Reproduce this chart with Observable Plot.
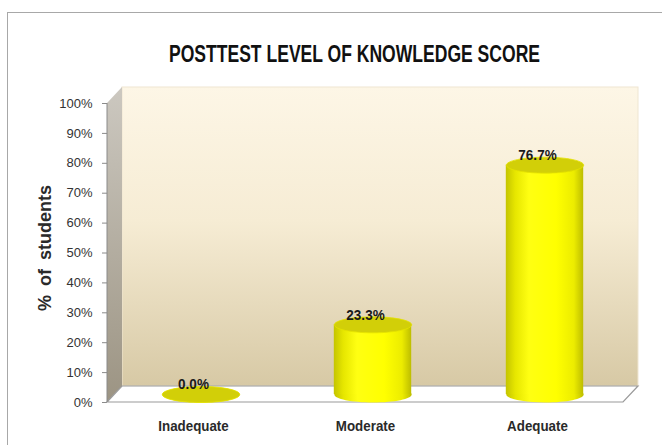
<!DOCTYPE html>
<html>
<head>
<meta charset="utf-8">
<script src="https://cdn.jsdelivr.net/npm/d3@7"></script>
<script src="https://cdn.jsdelivr.net/npm/@observablehq/plot@0.6"></script>
<style>
  html, body { margin: 0; padding: 0; background: #fff; }
  #page { position: relative; width: 662px; height: 445px; overflow: hidden; }
  #border { position: absolute; left: 7px; top: 12px; width: 700px; height: 500px; border: 1px solid #a8a8a8; box-sizing: border-box; }
  #title { position: absolute; left: 169px; top: 43px; white-space: nowrap; transform-origin: 0 0;
    font-family: "Liberation Sans", Arial, sans-serif; font-weight: bold; font-size: 23px; line-height: 23px; color: #111; }
  #chart { position: absolute; left: 0; top: 80px; }
  #chart svg { overflow: visible; }
  #chart [aria-label^="y-axis"] text { font-family: "Liberation Sans", Arial, sans-serif; font-size: 13px; fill: #333; }
  #chart [aria-label^="y-axis"] line, #chart [aria-label^="y-axis"] path { stroke: #8a8a8a; }
  #chart [aria-label^="x-axis"] text { font-family: "Liberation Sans", Arial, sans-serif; font-size: 15px; font-weight: bold; fill: #2a2a2a; }
</style>
</head>
<body>
<div id="page">
  <div id="border"></div>
  <span id="title"></span>
  <div id="chart"></div>
</div>
<script>
// ---- data ----
const title = "POSTTEST LEVEL OF KNOWLEDGE SCORE";
const yLabel = "% of students";
const categories = ["Inadequate", "Moderate", "Adequate"];
const values = [0.0, 23.3, 76.7];
const valueLabels = ["0.0%", "23.3%", "76.7%"];
const yTicks = [0, 10, 20, 30, 40, 50, 60, 70, 80, 90, 100];

const data = categories.map((c, i) => ({category: c, value: values[i], label: valueLabels[i]}));

// ---- 3D look (style constants) ----
const DX = 15, DY = -16;          // depth of the box
const CX = DX / 2, CY = DY / 2;   // cylinders sit mid-depth
const RX = 38.7, RY = 8;          // cylinder cap ellipse radii

function ellipseSymbol(rx, ry) {
  const k = 0.5523;
  return {
    draw(ctx) {
      ctx.moveTo(rx, 0);
      ctx.bezierCurveTo(rx, ry * k, rx * k, ry, 0, ry);
      ctx.bezierCurveTo(-rx * k, ry, -rx, ry * k, -rx, 0);
      ctx.bezierCurveTo(-rx, -ry * k, -rx * k, -ry, 0, -ry);
      ctx.bezierCurveTo(rx * k, -ry, rx, -ry * k, rx, 0);
      ctx.closePath();
    }
  };
}

function box(index, scales, values, dim) {
  const {width, height, marginLeft: ml, marginRight: mr, marginTop: mt, marginBottom: mb} = dim;
  const x0 = ml, x1 = width - mr, yb = height - mb, yt = mt;
  const g = d3.create("svg:g");
  const defs = g.append("defs");
  const wall = defs.append("linearGradient").attr("id", "wallGrad").attr("x1", 0).attr("y1", 0).attr("x2", 0).attr("y2", 1);
  wall.append("stop").attr("offset", "0%").attr("stop-color", "#fdf6e6");
  wall.append("stop").attr("offset", "45%").attr("stop-color", "#f6ecd4");
  wall.append("stop").attr("offset", "100%").attr("stop-color", "#d7c9a5");
  const side = defs.append("linearGradient").attr("id", "sideGrad").attr("x1", 0).attr("y1", 0).attr("x2", 0).attr("y2", 1);
  side.append("stop").attr("offset", "0%").attr("stop-color", "#ccc8c0");
  side.append("stop").attr("offset", "100%").attr("stop-color", "#9c9483");
  const cyl = defs.append("linearGradient").attr("id", "cylGrad").attr("x1", 0).attr("y1", 0).attr("x2", 1).attr("y2", 0);
  [["0%", "#c4c400"], ["12%", "#e6e600"], ["30%", "#ffff12"], ["65%", "#ffff00"], ["88%", "#ecec00"], ["100%", "#bdbd00"]]
    .forEach(([o, c]) => cyl.append("stop").attr("offset", o).attr("stop-color", c));

  g.append("rect").attr("x", x0 + DX).attr("y", yt + DY).attr("width", x1 - x0).attr("height", yb - yt)
    .attr("fill", "url(#wallGrad)").attr("stroke", "#efe6d2").attr("stroke-width", 1);
  g.append("path").attr("d", `M${x0},${yb}V${yt}L${x0 + DX},${yt + DY}V${yb + DY}Z`).attr("fill", "url(#sideGrad)");
  g.append("path").attr("d", `M${x0},${yb}H${x1}L${x1 + DX},${yb + DY}H${x0 + DX}Z`)
    .attr("fill", "#ffffff").attr("stroke", "#9a9a9a").attr("stroke-width", 1.2);
  g.append("line").attr("x1", x0).attr("x2", x0).attr("y1", yt).attr("y2", yb).attr("stroke", "#8a8a8a");
  return g.node();
}

const plot = Plot.plot({
  width: 662,
  height: 365,
  marginLeft: 107,
  marginRight: 39,
  marginTop: 23,
  marginBottom: 43,
  style: {background: "transparent", color: "#333", overflow: "visible"},
  x: {domain: categories, paddingInner: 0.55, paddingOuter: 0.275, round: false, label: null, tickSize: 0, tickPadding: 18},
  y: {domain: [0, 100], ticks: yTicks, tickFormat: d => d + "%", label: null, tickSize: 5, tickPadding: 10},
  marks: [
    box,
    Plot.dot(data, {x: "category", y: d => 0, dx: CX, dy: CY, symbol: ellipseSymbol(RX, RY), fill: "url(#cylGrad)", stroke: "none"}),
    Plot.barY(data, {x: "category", y: "value", dx: CX, dy: CY, fill: "url(#cylGrad)"}),
    Plot.dot(data, {x: "category", y: "value", dx: CX, dy: CY, symbol: ellipseSymbol(RX, RY), fill: "#d2cf08", stroke: "#e4e200", strokeWidth: 0.8}),
    Plot.text(data, {x: "category", y: "value", text: "label", dy: -18, fontSize: 15, fontWeight: "bold",
      fontFamily: "Liberation Sans, Arial, sans-serif", fill: "#1a1a1a", lineAnchor: "middle"}),
    Plot.text([yLabel], {text: d => d, frameAnchor: "left", textAnchor: "middle", rotate: -90, dx: -62, dy: -5,
      fontSize: 18, fontWeight: "bold", fontFamily: "Liberation Sans, Arial, sans-serif", fill: "#2a2a2a"})
  ]
});

const titleEl = document.getElementById("title");
titleEl.textContent = title;
document.getElementById("chart").appendChild(plot);

// condense text to mimic the narrow original typeface
const tw = titleEl.getBoundingClientRect().width;
titleEl.style.transform = `scaleX(${371 / tw})`;

function condense(el, factor) {
  const w = el.getComputedTextLength();
  el.setAttribute("textLength", w * factor);
  el.setAttribute("lengthAdjust", "spacingAndGlyphs");
}
plot.querySelectorAll('[aria-label^="x-axis"] text').forEach(t => condense(t, 0.89));
plot.querySelectorAll("text").forEach(t => {
  if (valueLabels.includes(t.textContent)) condense(t, 0.9);
  if (t.textContent === yLabel) t.style.wordSpacing = "4px";
});
</script>
</body>
</html>
